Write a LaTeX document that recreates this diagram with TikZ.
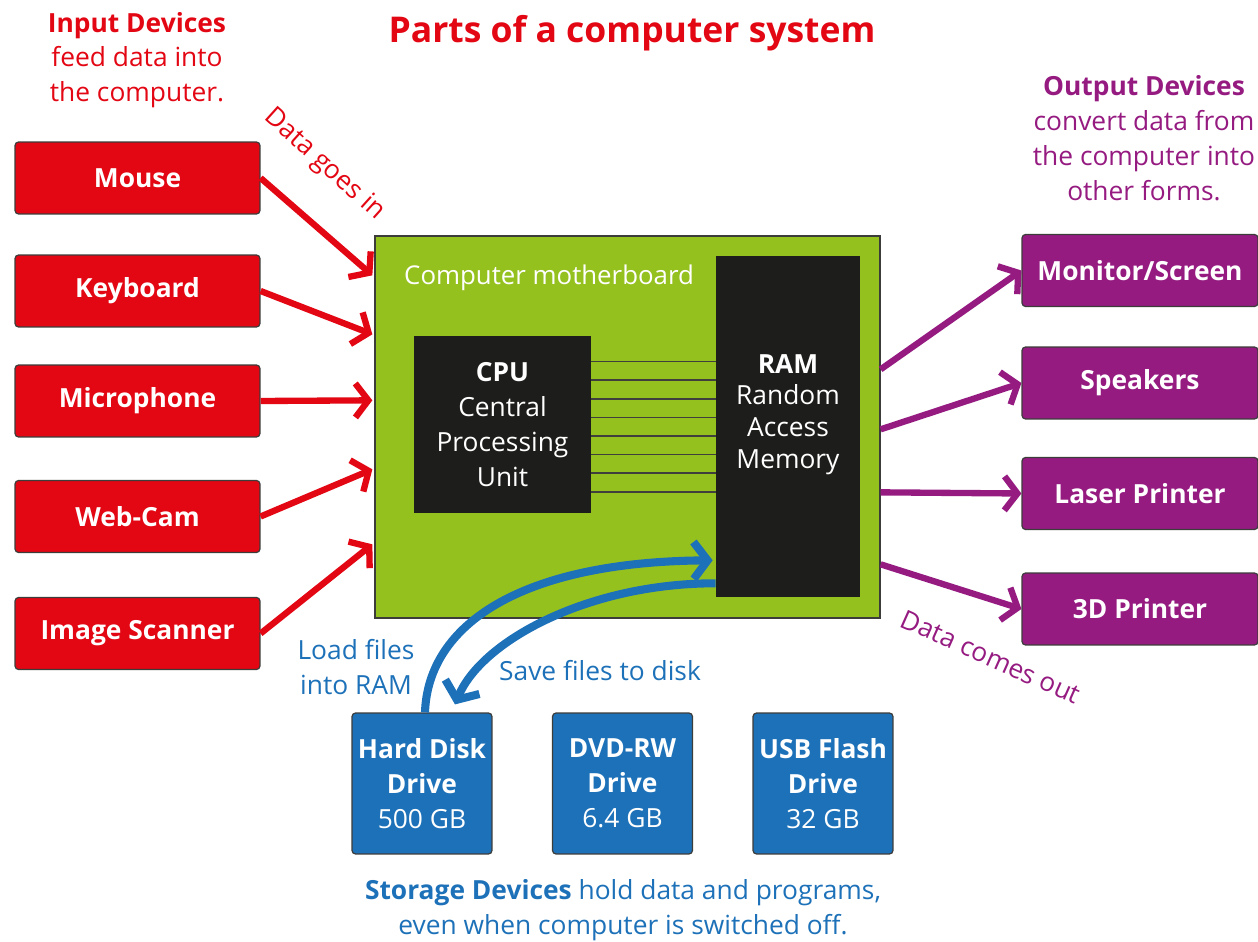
\documentclass[tikz,border=0pt]{standalone}
\usepackage{fontspec}
\setmainfont{Open Sans}
\usetikzlibrary{arrows.meta,calc}
\definecolor{pcsRed}{HTML}{E30613}
\definecolor{pcsGreen}{HTML}{95C11F}
\definecolor{pcsChip}{HTML}{1D1D1B}
\definecolor{pcsPurple}{HTML}{951B81}
\definecolor{pcsBlue}{HTML}{1D71B8}
\definecolor{pcsEdge}{HTML}{3C3C3B}
\tikzset{
  pcs box/.style={draw=pcsEdge, line width=0.7pt, rounded corners=2pt, text=white, inner sep=0pt, font=\fontsize{15}{19}\selectfont\bfseries},
  pcs in/.style={pcs box, fill=pcsRed, minimum width=4.9cm, minimum height=1.44cm},
  pcs out/.style={pcs box, fill=pcsPurple, minimum width=4.72cm, minimum height=1.44cm},
  pcs store/.style={pcs box, fill=pcsBlue, minimum width=2.8cm, minimum height=2.82cm, align=center, font=\fontsize{15}{19.8}\selectfont},
  pcs board/.style={draw=pcsEdge, line width=0.8pt, fill=pcsGreen, inner sep=0pt},
  pcs chip/.style={fill=pcsChip, inner sep=0pt},
  pcs chip text/.style={text=white, align=center, font=\fontsize{15}{19.8}\selectfont},
  pcs bus/.style={draw=pcsChip!85, line width=0.9pt},
  pcs label/.style={align=center, font=\fontsize{15}{19.8}\selectfont},
  pcs arrow/.style={line width=3.6pt, -{Straight Barb[length=2.6mm,width=6.8mm]}},
  pcs flow/.style={line width=4.6pt, draw=pcsBlue, -{Straight Barb[length=2.8mm,width=7.4mm]}},
}
\begin{document}
\begin{tikzpicture}[x=0.02cm,y=-0.02cm]
\useasboundingbox (0,0) rectangle (1258,942);
\node[font=\fontsize{20.2}{24}\selectfont\bfseries, text=pcsRed] (title) at (632,33) {Parts of a computer system};
% input side
\node[pcs label, text=pcsRed] (intext) at (137,60) {\textbf{Input Devices}\\feed data into\\the computer.};
\node[pcs in] (mouse) at (137.5,178) {Mouse};
\node[pcs in] (keyboard) at (137.5,291) {Keyboard};
\node[pcs in] (mic) at (137.5,401) {Microphone};
\node[pcs in] (webcam) at (137.5,516.5) {Web-Cam};
\node[pcs in] (scanner) at (137.5,633.5) {Image Scanner};
% motherboard
\node[pcs board, minimum width=10.1cm, minimum height=7.64cm] (board) at (627.5,427) {};
\node[pcs chip text, anchor=west, font=\fontsize{14.7}{18}\selectfont] (boardtext) at (398,278) {Computer motherboard};
\node[pcs chip, minimum width=3.54cm, minimum height=3.54cm] (cpu) at (502.5,424.5) {};
\node[pcs chip text] (cputext) at (cpu.center) {\textbf{CPU}\\Central\\Processing\\Unit};
\node[pcs chip, minimum width=2.88cm, minimum height=6.82cm] (ram) at (788,426.5) {};
\node[pcs chip text, font=\fontsize{15}{18}\selectfont] (ramtext) at ($(ram.center)+(0,-12)$) {\textbf{RAM}\\Random\\Access\\Memory};
\foreach \i in {0,...,7}{\draw[pcs bus]($(cpu.north east)+(0,26+18.6*\i)$)--($(ram.west |- cpu.north east)+(0,26+18.6*\i)$);}
% data in
\draw[pcs arrow, draw=pcsRed](mouse.east)--($(board.north west)+(-2,40)$);
\draw[pcs arrow, draw=pcsRed](keyboard.east)--($(board.north west)+(-2,99)$);
\draw[pcs arrow, draw=pcsRed](mic.east)--($(board.north west)+(-2,165)$);
\draw[pcs arrow, draw=pcsRed](webcam.east)--($(board.north west)+(-2,234)$);
\draw[pcs arrow, draw=pcsRed](scanner.east)--($(board.north west)+(-2,309)$);
\node[font=\fontsize{15}{18}\selectfont, text=pcsRed, rotate=-42] (goesin) at (324,165) {Data goes in};
% output side
\node[pcs label, text=pcsPurple] (outtext) at (1144,138) {\textbf{Output Devices}\\convert data from\\the computer into\\other forms.};
\node[pcs out] (monitor) at (1140,270.5) {Monitor/Screen};
\node[pcs out] (speakers) at (1140,383) {Speakers};
\node[pcs out] (laser) at (1140,493.5) {Laser Printer};
\node[pcs out] (printer3d) at (1140,609) {3D Printer};
\draw[pcs arrow, draw=pcsPurple]($(board.north east)+(0,134)$)--(monitor.west);
\draw[pcs arrow, draw=pcsPurple]($(board.north east)+(0,194)$)--(speakers.west);
\draw[pcs arrow, draw=pcsPurple]($(board.north east)+(0,257)$)--(laser.west);
\draw[pcs arrow, draw=pcsPurple]($(board.north east)+(0,329)$)--(printer3d.west);
\node[font=\fontsize{15}{18}\selectfont, text=pcsPurple, rotate=-24] (comesout) at (991,657) {Data comes out};
% storage
\node[pcs store] (hdd) at (422,783.5) {\textbf{Hard Disk}\\\textbf{Drive}\\500 GB};
\node[pcs store] (dvd) at (622.5,783.5) {\textbf{DVD-RW}\\\textbf{Drive}\\6.4 GB};
\node[pcs store] (usb) at (823,783.5) {\textbf{USB Flash}\\\textbf{Drive}\\32 GB};
\draw[pcs flow]($(hdd.north)+(3,0)$) .. controls (428,625) and (520,562) .. ($(ram.south west)+(-3,-37)$);
\draw[pcs flow]($(ram.south west)+(0,-14)$) .. controls (590,583) and (482,640) .. ($(hdd.north)+(33,-8)$);
\node[pcs label, text=pcsBlue] (loadtext) at (356,667) {Load files\\into RAM};
\node[pcs label, text=pcsBlue] (savetext) at (600,671) {Save files to disk};
\node[pcs label, text=pcsBlue] (storetext) at (623,910) {\textbf{Storage Devices} hold data and programs,\\even when computer is switched off.};
\end{tikzpicture}
\end{document}
